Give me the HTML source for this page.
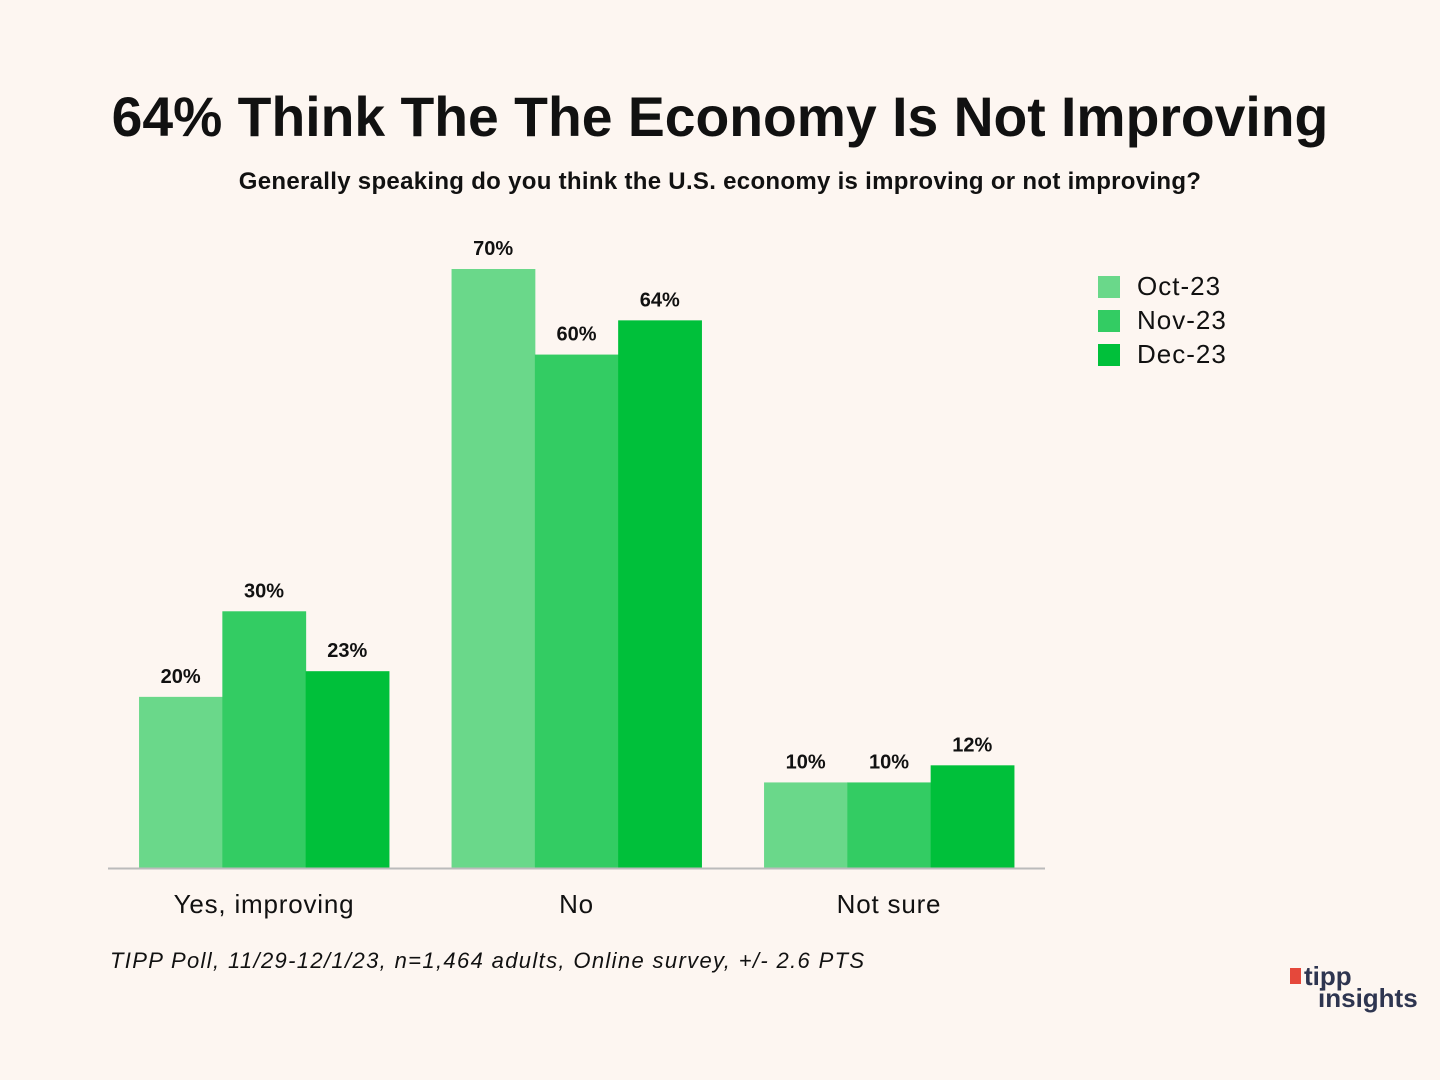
<!DOCTYPE html>
<html><head><meta charset="utf-8"><style>
body{margin:0;background:#fdf6f1;font-family:"Liberation Sans",sans-serif;}
#wrap{position:relative;width:1440px;height:1080px;overflow:hidden;background:#fdf6f1;}
.t{position:absolute;white-space:nowrap;}
</style></head><body>
<div id="wrap">
<div class="t" style="left:0;width:1440px;text-align:center;top:85px;font-size:55.3px;font-weight:bold;color:#111;">64% Think The The Economy Is Not Improving</div>
<div class="t" style="left:0;width:1440px;text-align:center;top:168px;font-size:24px;letter-spacing:0.3px;font-weight:bold;color:#111;">Generally speaking do you think the U.S. economy is improving or not improving?</div>
<svg id="chart" width="1440" height="1080" style="position:absolute;left:0;top:0"></svg>
<div class="t" style="left:110px;top:948px;font-size:22px;letter-spacing:1.35px;font-style:italic;color:#111;">TIPP Poll, 11/29-12/1/23, n=1,464 adults, Online survey, +/- 2.6 PTS</div>
<div style="position:absolute;left:1282px;top:964px;">
<div style="position:absolute;left:8px;top:4px;width:11px;height:16px;background:#e5483b;"></div>
<div class="t" style="left:22px;top:-2px;font-size:26px;font-weight:bold;color:#2e3550;line-height:28px;">tipp</div>
<div class="t" style="left:36px;top:20px;font-size:26px;font-weight:bold;color:#2e3550;line-height:28px;">insights</div>
</div>
</div>
<script>
const categories=["Yes, improving","No","Not sure"];
const series=["Oct-23","Nov-23","Dec-23"];
const oct=[20,70,10];
const nov=[30,60,10];
const dec=[23,64,12];
const colors=["#6ad88a","#33cc63","#00c03a"];
const vals=[oct,nov,dec];
const svg=document.getElementById('chart');
const NS="http://www.w3.org/2000/svg";
const base=868, pxPer=8.557;
function y(v){return base-v*pxPer;}
function gx(i){return 264+i*312.5;}
const bw=83.3;
function mk(t,a){const e=document.createElementNS(NS,t);for(const k in a)e.setAttribute(k,a[k]);svg.appendChild(e);return e;}
categories.forEach((c,i)=>{
  series.forEach((s,j)=>{
    const v=vals[j][i];
    const x=gx(i)-1.5*bw+j*bw;
    const r=mk('rect',{x:x,y:y(v),width:bw+0.5,height:base-y(v),fill:colors[j]});
    
    
    const t=mk('text',{x:x+bw/2,y:y(v)-14,'text-anchor':'middle','font-size':20,'font-weight':'bold',fill:'#111','font-family':'Liberation Sans'});
    t.textContent=v+'%';
    
    
  });
  const l=mk('text',{x:gx(i),y:913,'text-anchor':'middle','font-size':26,'letter-spacing':'0.8',fill:'#111','font-family':'Liberation Sans'});
  l.textContent=c;
  
  
});
const ax=mk('line',{x1:108,x2:1045,y1:base+0.5,y2:base+0.5,stroke:'#bbb','stroke-width':2});


series.forEach((s,j)=>{
  const r=mk('rect',{x:1098,y:276+j*34,width:22,height:22,fill:colors[j]});
  
  
  const t=mk('text',{x:1137,y:295+j*34,'font-size':26,'letter-spacing':'1',fill:'#111','font-family':'Liberation Sans'});
  t.textContent=s;
  
  
});
</script>
</body></html>
